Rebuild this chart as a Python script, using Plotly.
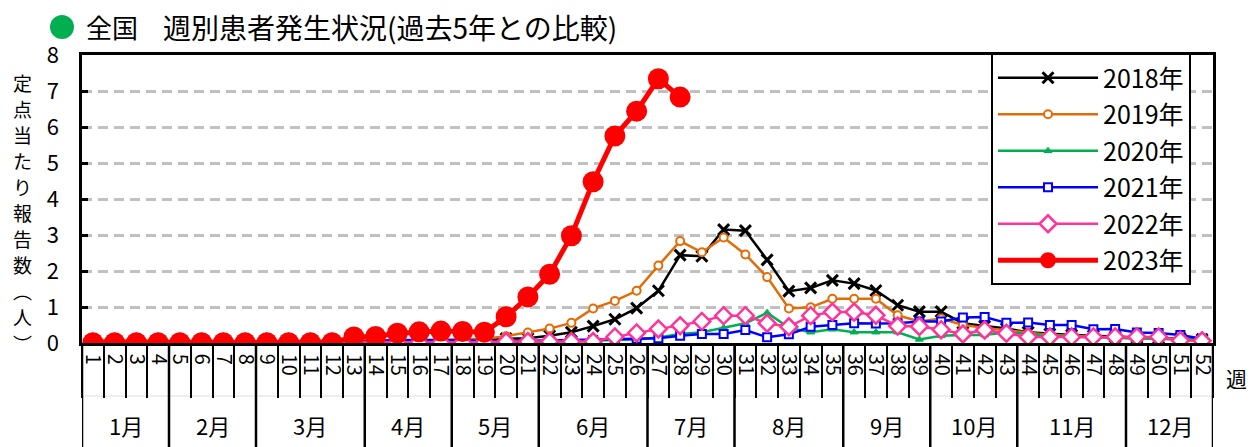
import plotly.graph_objects as go

# ---------------- data ----------------
weeks = [str(i) for i in range(1, 53)]

months = ["1月", "2月", "3月", "4月", "5月", "6月", "7月", "8月", "9月", "10月", "11月", "12月"]
month_weeks = [4, 4, 5, 4, 4, 5, 4, 5, 4, 4, 5, 4]

y2018 = [0.06, 0.05, 0.05, 0.04, 0.04, 0.04, 0.04, 0.04, 0.04, 0.05, 0.05, 0.05, 0.06,
         0.06, 0.07, 0.07, 0.08, 0.08, 0.10, 0.12, 0.13, 0.20, 0.30, 0.47, 0.66, 0.97,
         1.45, 2.44, 2.41, 3.15, 3.12, 2.31, 1.44, 1.53, 1.74, 1.65, 1.46, 1.05, 0.87,
         0.87, 0.55, 0.47, 0.40, 0.30, 0.25, 0.22, 0.20, 0.17, 0.15, 0.13, 0.12, 0.10]
y2019 = [0.08, 0.07, 0.07, 0.06, 0.06, 0.06, 0.05, 0.05, 0.05, 0.05, 0.06, 0.06, 0.06,
         0.07, 0.07, 0.08, 0.09, 0.10, 0.12, 0.19, 0.29, 0.40, 0.56, 0.96, 1.17, 1.45,
         2.15, 2.83, 2.52, 2.93, 2.46, 1.83, 0.96, 0.99, 1.23, 1.23, 1.23, 0.77, 0.60,
         0.68, 0.50, 0.42, 0.35, 0.27, 0.22, 0.20, 0.17, 0.15, 0.12, 0.12, 0.10, 0.08]
y2020 = [0.03, 0.03, 0.02, 0.02, 0.02, 0.02, 0.02, 0.02, 0.02, 0.02, 0.01, 0.01, 0.01,
         0.01, 0.01, 0.01, 0.01, 0.01, 0.01, 0.02, 0.03, 0.04, 0.05, 0.06, 0.08, 0.10,
         0.15, 0.25, 0.30, 0.42, 0.55, 0.84, 0.42, 0.30, 0.38, 0.30, 0.30, 0.30, 0.10,
         0.20, 0.22, 0.22, 0.30, 0.25, 0.20, 0.18, 0.15, 0.15, 0.13, 0.12, 0.10, 0.08]
y2021 = [0.02, 0.02, 0.02, 0.02, 0.02, 0.02, 0.02, 0.02, 0.02, 0.02, 0.02, 0.02, 0.03,
         0.05, 0.08, 0.08, 0.08, 0.08, 0.06, 0.05, 0.06, 0.06, 0.07, 0.08, 0.10, 0.12,
         0.13, 0.20, 0.25, 0.25, 0.36, 0.16, 0.24, 0.45, 0.50, 0.55, 0.54, 0.55, 0.60,
         0.60, 0.71, 0.72, 0.56, 0.57, 0.50, 0.50, 0.38, 0.39, 0.29, 0.28, 0.22, 0.12]
y2022 = [0.02, 0.02, 0.02, 0.02, 0.02, 0.02, 0.02, 0.02, 0.02, 0.02, 0.02, 0.02, 0.02,
         0.01, 0.01, 0.01, 0.01, 0.01, 0.02, 0.04, 0.04, 0.04, 0.04, 0.04, 0.17, 0.28,
         0.39, 0.48, 0.60, 0.76, 0.76, 0.55, 0.45, 0.76, 0.86, 0.86, 0.77, 0.47, 0.46,
         0.37, 0.25, 0.36, 0.27, 0.17, 0.17, 0.17, 0.17, 0.17, 0.17, 0.17, 0.07, 0.06]
y2023 = [0.01, 0.01, 0.01, 0.01, 0.01, 0.01, 0.01, 0.01, 0.01, 0.01, 0.01, 0.01, 0.17,
         0.18, 0.27, 0.31, 0.33, 0.32, 0.30, 0.73, 1.28, 1.91, 2.98, 4.48, 5.75, 6.44,
         7.34, 6.83]

series_names = ["2018年", "2019年", "2020年", "2021年", "2022年", "2023年"]
series_values = [y2018, y2019, y2020, y2021, y2022, y2023]

y_title_chars = ["定", "点", "当", "た", "り", "報", "告", "数", "︵", "人", "︶"]
title_part1 = "全国"
title_part2 = "週別患者発生状況(過去5年との比較)"

# ---------------- styles ----------------
styles = [
    dict(color="#000000", lw=2.5, marker=dict(symbol="x-thin", size=11, color="#000000",
                                               line=dict(color="#000000", width=3))),
    dict(color="#E36C09", lw=2.5, marker=dict(symbol="circle", size=8, color="white",
                                               line=dict(color="#E36C09", width=2))),
    dict(color="#00B050", lw=2.5, marker=dict(symbol="triangle-up", size=7, color="#00B050",
                                               line=dict(color="#00B050", width=1))),
    dict(color="#0000FF", lw=2.5, marker=dict(symbol="square", size=8, color="white",
                                               line=dict(color="#0000FF", width=2))),
    dict(color="#FF3399", lw=2.5, marker=dict(symbol="diamond", size=13, color="white",
                                               line=dict(color="#FF3399", width=2.5))),
    dict(color="#FF0000", lw=5, marker=dict(symbol="circle", size=21, color="#FF0000",
                                             line=dict(color="#FF0000", width=0))),
]

FONT = "Noto Sans CJK JP"

fig = go.Figure()
for name, vals, st in zip(series_names, series_values, styles):
    fig.add_trace(go.Scatter(
        x=weeks[:len(vals)], y=vals, name=name, mode="lines+markers",
        line=dict(color=st["color"], width=st["lw"]),
        marker=st["marker"], legendgroup=name,
    ))

# plot area geometry (px)
W, H = 1258, 447
L, R, T, B = 82, 45, 55, 104
plot_h = H - T - B
plot_w = W - L - R


def py(px):
    return (H - B - px) / plot_h


def px_x(px):
    return (px - L) / plot_w


shapes = []
pos = -0.5
bounds = [pos]
for n in month_weeks:
    pos += n
    bounds.append(pos)
for b in bounds:
    shapes.append(dict(type="line", xref="x", yref="paper", x0=b, x1=b,
                       y0=0, y1=py(H), line=dict(color="black", width=2.5)))
shapes.append(dict(type="line", xref="paper", yref="paper", x0=0, x1=1,
                   y0=py(396), y1=py(396), line=dict(color="#dddddd", width=1), layer="below"))
# green bullet before the title
shapes.append(dict(type="circle", xref="paper", yref="paper",
                   x0=px_x(50), x1=px_x(74), y0=py(39), y1=py(15),
                   fillcolor="#00B050", line=dict(width=0)))

annotations = []
for i, m in enumerate(months):
    center = (bounds[i] + bounds[i + 1]) / 2
    annotations.append(dict(text=m, x=center, xref="x", y=py(425), yref="paper",
                            xanchor="center", yanchor="middle",
                            showarrow=False, font=dict(size=22, family=FONT)))
annotations.append(dict(text="週", x=px_x(1236), xref="paper", y=py(378), yref="paper",
                        xanchor="center", yanchor="middle",
                        showarrow=False, font=dict(size=21, family=FONT)))
for i, ch in enumerate(y_title_chars):
    annotations.append(dict(text=ch, x=px_x(22), xref="paper",
                            y=py(82 + i * 26.1), yref="paper", showarrow=False,
                            xanchor="center", yanchor="middle",
                            font=dict(size=19, family=FONT)))
annotations.append(dict(text=title_part1, x=px_x(84), xref="paper", xanchor="left",
                        y=py(27), yref="paper", yanchor="middle", showarrow=False,
                        font=dict(size=26, family=FONT)))
annotations.append(dict(text=title_part2, x=px_x(161), xref="paper", xanchor="left",
                        y=py(27), yref="paper", yanchor="middle", showarrow=False,
                        font=dict(size=28, family=FONT)))

fig.update_layout(
    width=W, height=H, margin=dict(l=L, r=R, t=T, b=B, autoexpand=False),
    paper_bgcolor="white", plot_bgcolor="white",
    font=dict(family=FONT, size=20, color="black"),
    showlegend=True,
    legend=dict(x=px_x(991), y=py(53), xanchor="left", yanchor="top",
                bgcolor="white", bordercolor="black", borderwidth=2,
                font=dict(size=25, family=FONT), itemwidth=100,
                traceorder="grouped", tracegroupgap=1, maxheight=400),
    shapes=shapes, annotations=annotations,
)
fig.update_xaxes(type="category", categoryorder="array", categoryarray=weeks,
                 range=[-0.5, 51.5], showline=True, linecolor="black", linewidth=2.5,
                 mirror=True, ticks="outside", tickson="boundaries", ticklen=52,
                 tickwidth=2, tickcolor="black", tickangle=90, dtick=1, automargin=False,
                 tickfont=dict(size=20, family=FONT), ticklabelstandoff=4,
                 showgrid=False, zeroline=False)
fig.update_yaxes(range=[0, 8], dtick=1, showgrid=True, gridcolor="#c0c0c0", gridwidth=2.5,
                 griddash="10px,6px", ticks="inside", ticklen=6, tickwidth=2.5,
                 tickcolor="black", showline=True, linecolor="black", linewidth=2.5,
                 mirror=True, zeroline=False, tickfont=dict(size=22, family=FONT),
                 ticklabelstandoff=16, automargin=False)

fig.write_html("out.html", config={"displayModeBar": False},
               post_script="document.body.style.margin='0px';")
